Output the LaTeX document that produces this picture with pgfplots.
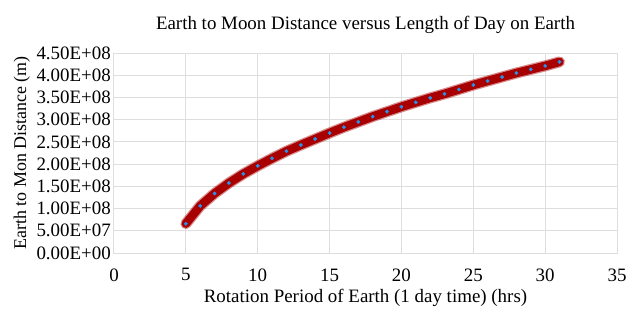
\documentclass[border=0pt]{standalone}
\usepackage{pgfplots}
\pgfplotsset{compat=1.18}
\usepackage{fontspec}
\setmainfont{Liberation Serif}
\definecolor{glow}{RGB}{168,0,0}
\definecolor{dot}{RGB}{40,145,235}
\definecolor{gridc}{RGB}{222,222,222}
\pgfplotstableread{
x y
5 6.6e7
6 1.06e8
7 1.34e8
8 1.575e8
9 1.78e8
10 1.96e8
11 2.13e8
12 2.29e8
13 2.43e8
14 2.565e8
15 2.70e8
16 2.83e8
17 2.95e8
18 3.07e8
19 3.18e8
20 3.29e8
21 3.39e8
22 3.49e8
23 3.58e8
24 3.68e8
25 3.78e8
26 3.87e8
27 3.96e8
28 4.05e8
29 4.13e8
30 4.21e8
31 4.30e8
}\moon
\begin{document}
\begin{tikzpicture}
\begin{axis}[
  scale only axis,
  width=503bp, height=200bp,
  xmin=0, xmax=35, ymin=0, ymax=4.5e8,
  xtick={0,5,...,35},
  ytick={0,0.5e8,1e8,1.5e8,2e8,2.5e8,3e8,3.5e8,4e8,4.5e8},
  yticklabels={0.00E+00,5.00E+07,1.00E+08,1.50E+08,2.00E+08,2.50E+08,3.00E+08,3.50E+08,4.00E+08,4.50E+08},
  scaled y ticks=false,
  /pgf/number format/assume math mode=true,
  tick style={draw=none},
  grid=major,
  grid style={gridc, line width=1pt},
  axis line style={gridc, line width=1pt},
  tick label style={font=\fontsize{19}{21}\selectfont},
  yticklabel style={inner sep=1bp, xshift=-2bp},
  xticklabel style={yshift=-12bp},
  xlabel style={font=\fontsize{19}{21}\selectfont, yshift=-1bp},
  ylabel style={font=\fontsize{18}{20}\selectfont, yshift=2bp},
  title style={font=\fontsize{19}{21}\selectfont, yshift=10bp},
  title={Earth to Moon Distance versus Length of Day on Earth},
  xlabel={Rotation Period of Earth (1 day time) (hrs)},
  ylabel={Earth to Mon Distance (m)},
]
\addplot[glow, opacity=0.45, line width=11bp, line cap=round, line join=round] table {\moon};
\addplot[glow, line width=8.5bp, line cap=round, line join=round] table {\moon};
\addplot[only marks, mark=*, mark size=1.7bp, mark options={fill=dot, draw=dot}] table {\moon};
\end{axis}
\pgfresetboundingbox
\path[use as bounding box] (-114bp,-56bp) rectangle (513bp,253bp);
\end{tikzpicture}
\end{document}
